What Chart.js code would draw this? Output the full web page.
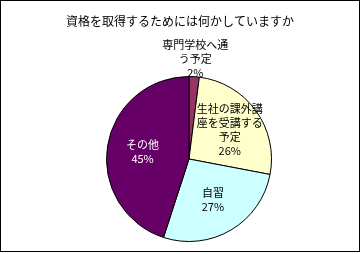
<!DOCTYPE html>
<html><head><meta charset="utf-8">
<script src="https://cdn.jsdelivr.net/npm/chart.js@4/dist/chart.umd.min.js"></script>
<style>html,body{margin:0;padding:0;background:#fff}#wrap{width:362px;height:254px}</style>
</head><body><div id="wrap"><canvas id="c" width="362" height="254"></canvas></div>
<script>
const title = "資格を取得するためには何かしていますか";
const categories = [["専門学校へ通","う予定"], ["生社の課外講","座を受講する","予定"], ["自習"], ["その他"]];
const values = [2, 26, 27, 45];
const percentLabels = ["2%", "26%", "27%", "45%"];
const colors = ["#993366", "#FFFFCC", "#CCFFFF", "#660066"];
const textColors = ["#000", "#000", "#000", "#fff"];
const labelRadius = [1.22, 0.61, 0.57, 0.57];
const FONT = '"Noto Sans CJK JP", "Noto Sans", sans-serif';

const framePlugin = {
  id: 'frame',
  beforeDraw(chart) {
    const ctx = chart.ctx;
    ctx.save();
    ctx.fillStyle = '#fff';
    ctx.fillRect(0, 0, chart.width, chart.height);
    ctx.strokeStyle = '#000';
    ctx.lineWidth = 1;
    ctx.strokeRect(0.5, 0.5, 359, 251);
    ctx.fillStyle = '#000';
    ctx.font = '12px ' + FONT;
    ctx.textAlign = 'center';
    ctx.textBaseline = 'middle';
    ctx.fillText(title, 180, 21);
    ctx.restore();
  },
  afterDraw(chart) {
    const ctx = chart.ctx;
    const meta = chart.getDatasetMeta(0);
    ctx.save();
    ctx.font = '11px ' + FONT;
    ctx.textAlign = 'center';
    ctx.textBaseline = 'middle';
    meta.data.forEach((arc, i) => {
      const mid = (arc.startAngle + arc.endAngle) / 2;
      const r = arc.outerRadius * labelRadius[i];
      const cx = arc.x + Math.cos(mid) * r;
      const cy = arc.y + Math.sin(mid) * r;
      const lines = categories[i].concat([percentLabels[i]]);
      const lh = 14;
      const top = cy - (lines.length - 1) * lh / 2;
      ctx.fillStyle = textColors[i];
      lines.forEach((t, k) => ctx.fillText(t, cx, top + k * lh));
    });
    ctx.restore();
  }
};

new Chart(document.getElementById('c'), {
  type: 'pie',
  data: {
    labels: categories.map(c => c.join('')),
    datasets: [{
      data: values,
      backgroundColor: colors,
      borderColor: '#000',
      borderWidth: 1
    }]
  },
  options: {
    responsive: false,
    animation: false,
    devicePixelRatio: 1,
    layout: { padding: { left: 106, right: 90, top: 76, bottom: 12 } },
    plugins: { legend: { display: false }, tooltip: { enabled: false }, title: { display: false } }
  },
  plugins: [framePlugin]
});
</script></body></html>
